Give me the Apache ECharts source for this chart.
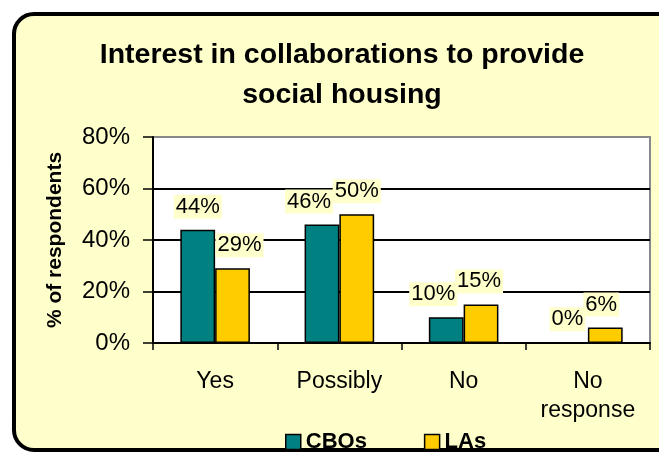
<!DOCTYPE html>
<html>
<head>
<meta charset="utf-8">
<script src="https://cdn.jsdelivr.net/npm/echarts@6/dist/echarts.min.js"></script>
<style>
html,body{margin:0;padding:0;background:#fff;}
#c{width:659px;height:452px;}
</style>
</head>
<body>
<div id="c"></div>
<script>
const categories = ['Yes', 'Possibly', 'No', 'No\nresponse'];
const cboValues = [44, 46, 10, 0];
const laValues = [29, 50, 15, 6];
const yTicks = [0, 20, 40, 60, 80];
const seriesNames = ['CBOs', 'LAs'];

const FONT = '"Liberation Sans", Arial, sans-serif';
const BG = '#FFFFCC';
// label horizontal nudges (style only, mimic Excel label placement)
const cboShift = [0, -13, -13, -3];
const laShift = [7, 0, -2, -4];

function mk(vals, shifts) {
  return vals.map((v, i) => ({ value: v, label: { offset: [shifts[i], 0] } }));
}

const labelStyle = {
  show: true, position: 'top', distance: 11, formatter: p => p.value + '%',
  fontFamily: FONT, fontSize: 22, color: '#000', backgroundColor: BG, padding: [1, 2]
};

const chart = echarts.init(document.getElementById('c'), null, { renderer: 'canvas' });
chart.setOption({
  backgroundColor: '#ffffff',
  animation: false,
  graphic: [{
    type: 'rect', z: -10, silent: true,
    shape: { x: 14, y: 14, width: 700, height: 436, r: 20 },
    style: { fill: BG, stroke: '#000', lineWidth: 4 }
  }],
  title: {
    text: 'Interest in collaborations to provide\nsocial housing',
    left: 337, top: 30, textAlign: 'center',
    textStyle: { fontFamily: FONT, fontWeight: 'bold', fontSize: 28.5, lineHeight: 40, color: '#000' }
  },
  legend: {
    data: seriesNames,
    left: 280, top: 426, itemWidth: 15, itemHeight: 15, itemGap: 57,
    icon: 'rect',
    textStyle: { fontFamily: FONT, fontWeight: 'bold', fontSize: 22, color: '#000' },
    itemStyle: { borderColor: '#000', borderWidth: 1.5 }
  },
  grid: {
    left: 153, right: 9, top: 137, bottom: 109,
    show: true, backgroundColor: '#fff', borderColor: '#888', borderWidth: 2
  },
  xAxis: {
    type: 'category', data: categories,
    axisLine: { lineStyle: { color: '#000', width: 2 } },
    axisTick: { show: true, length: 7, lineStyle: { color: '#000', width: 1.5 } },
    axisLabel: { fontFamily: FONT, fontSize: 23, color: '#000', lineHeight: 29, margin: 24 }
  },
  yAxis: {
    type: 'value', min: yTicks[0], max: yTicks[yTicks.length - 1], interval: 20,
    name: '% of respondents', nameLocation: 'middle', nameGap: 87, nameRotate: 90,
    nameTextStyle: { fontFamily: FONT, fontWeight: 'bold', fontSize: 21, color: '#000' },
    axisLine: { show: true, lineStyle: { color: '#000', width: 2 } },
    axisTick: { show: true, length: 10, lineStyle: { color: '#000', width: 1.5 } },
    axisLabel: { fontFamily: FONT, fontSize: 24, color: '#000', margin: 23, formatter: v => v + '%' },
    splitLine: { show: true, lineStyle: { color: ['#000', '#000', '#000', '#000', '#888'], width: 2 } }
  },
  series: [
    {
      name: seriesNames[0], type: 'bar', data: mk(cboValues, cboShift),
      barGap: '0%', barCategoryGap: '44%',
      itemStyle: { color: '#008080', borderColor: '#000', borderWidth: 1.5 },
      label: labelStyle
    },
    {
      name: seriesNames[1], type: 'bar', data: mk(laValues, laShift),
      barGap: '0%', barCategoryGap: '44%',
      itemStyle: { color: '#FFCC00', borderColor: '#000', borderWidth: 1.5 },
      label: labelStyle
    }
  ]
});
</script>
</body>
</html>
